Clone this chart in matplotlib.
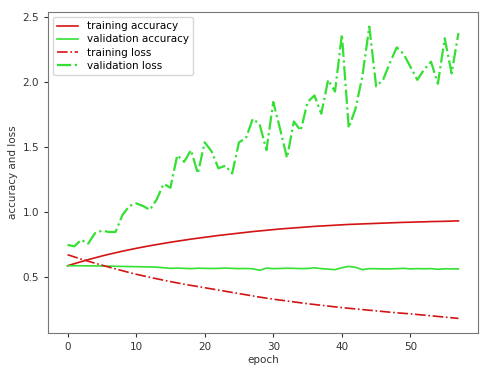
import matplotlib
matplotlib.use("Agg")
import matplotlib.pyplot as plt

epochs = list(range(58))

train_acc = [
    0.590, 0.606, 0.622, 0.637, 0.651, 0.665, 0.678, 0.690, 0.702, 0.713,
    0.724, 0.734, 0.744, 0.753, 0.762, 0.771, 0.779, 0.787, 0.795, 0.802,
    0.809, 0.816, 0.823, 0.829, 0.835, 0.841, 0.847, 0.853, 0.858, 0.863,
    0.868, 0.873, 0.877, 0.881, 0.885, 0.889, 0.893, 0.896, 0.899, 0.902,
    0.905, 0.908, 0.910, 0.912, 0.914, 0.916, 0.918, 0.920, 0.922, 0.924,
    0.925, 0.927, 0.928, 0.930, 0.931, 0.932, 0.934, 0.935,
]

val_acc = [
    0.590, 0.590, 0.590, 0.589, 0.589, 0.588, 0.587, 0.586, 0.585, 0.584,
    0.583, 0.582, 0.581, 0.579, 0.575, 0.570, 0.572, 0.570, 0.568, 0.571,
    0.570, 0.569, 0.570, 0.572, 0.570, 0.568, 0.569, 0.567, 0.555, 0.572,
    0.568, 0.569, 0.571, 0.570, 0.568, 0.569, 0.574, 0.568, 0.564, 0.560,
    0.575, 0.585, 0.578, 0.560, 0.568, 0.567, 0.566, 0.566, 0.568, 0.570,
    0.566, 0.568, 0.567, 0.568, 0.563, 0.567, 0.566, 0.566,
]

train_loss = [
    0.675, 0.658, 0.641, 0.625, 0.610, 0.595, 0.580, 0.566, 0.552, 0.538,
    0.525, 0.513, 0.501, 0.490, 0.479, 0.468, 0.458, 0.448, 0.439, 0.430,
    0.421, 0.412, 0.403, 0.394, 0.385, 0.376, 0.367, 0.358, 0.349, 0.341,
    0.333, 0.326, 0.319, 0.312, 0.305, 0.298, 0.292, 0.286, 0.280, 0.274,
    0.268, 0.263, 0.258, 0.253, 0.248, 0.243, 0.238, 0.233, 0.228, 0.224,
    0.220, 0.215, 0.210, 0.205, 0.200, 0.195, 0.190, 0.185,
]

val_loss = [
    0.75, 0.74, 0.79, 0.76, 0.84, 0.86, 0.85, 0.85, 0.98, 1.05,
    1.07, 1.05, 1.02, 1.10, 1.22, 1.19, 1.44, 1.39, 1.48, 1.30,
    1.54, 1.47, 1.34, 1.36, 1.30, 1.54, 1.57, 1.72, 1.68, 1.48,
    1.85, 1.64, 1.42, 1.70, 1.63, 1.85, 1.90, 1.76, 2.02, 1.93,
    2.37, 1.65, 1.80, 2.05, 2.43, 1.97, 2.02, 2.15, 2.27, 2.22,
    2.12, 2.02, 2.10, 2.16, 1.99, 2.34, 2.07, 2.38,
]

RED = "#d41414"
GREEN = "#33e033"

fig = plt.figure(figsize=(4.86, 3.74), dpi=100)
ax = fig.add_axes([48 / 486, 1 - 333 / 374, 430 / 486, 321 / 374])

ax.plot(epochs, train_acc, color=RED, lw=1.2, label="training accuracy")
ax.plot(epochs, val_acc, color=GREEN, lw=1.2, label="validation accuracy")
ax.plot(epochs, train_loss, color=RED, lw=1.2, ls="-.", label="training loss")
ax.plot(epochs, val_loss, color=GREEN, lw=1.6, ls="-.", label="validation loss")

ax.set_xlabel("epoch", fontsize=7.5, color="#333333", labelpad=2)
ax.set_ylabel("accuracy and loss", fontsize=7.5, color="#333333", labelpad=3)
ax.tick_params(labelsize=7.5, colors="#333333", length=3)
ax.set_yticks([0.5, 1.0, 1.5, 2.0, 2.5])
for sp in ax.spines.values():
    sp.set_color("#777777")

ax.legend(loc="upper left", fontsize=7.5, handlelength=2.0, borderpad=0.4,
          labelspacing=0.3, framealpha=0.8)

fig.savefig("out.png", dpi=100, facecolor="white")
